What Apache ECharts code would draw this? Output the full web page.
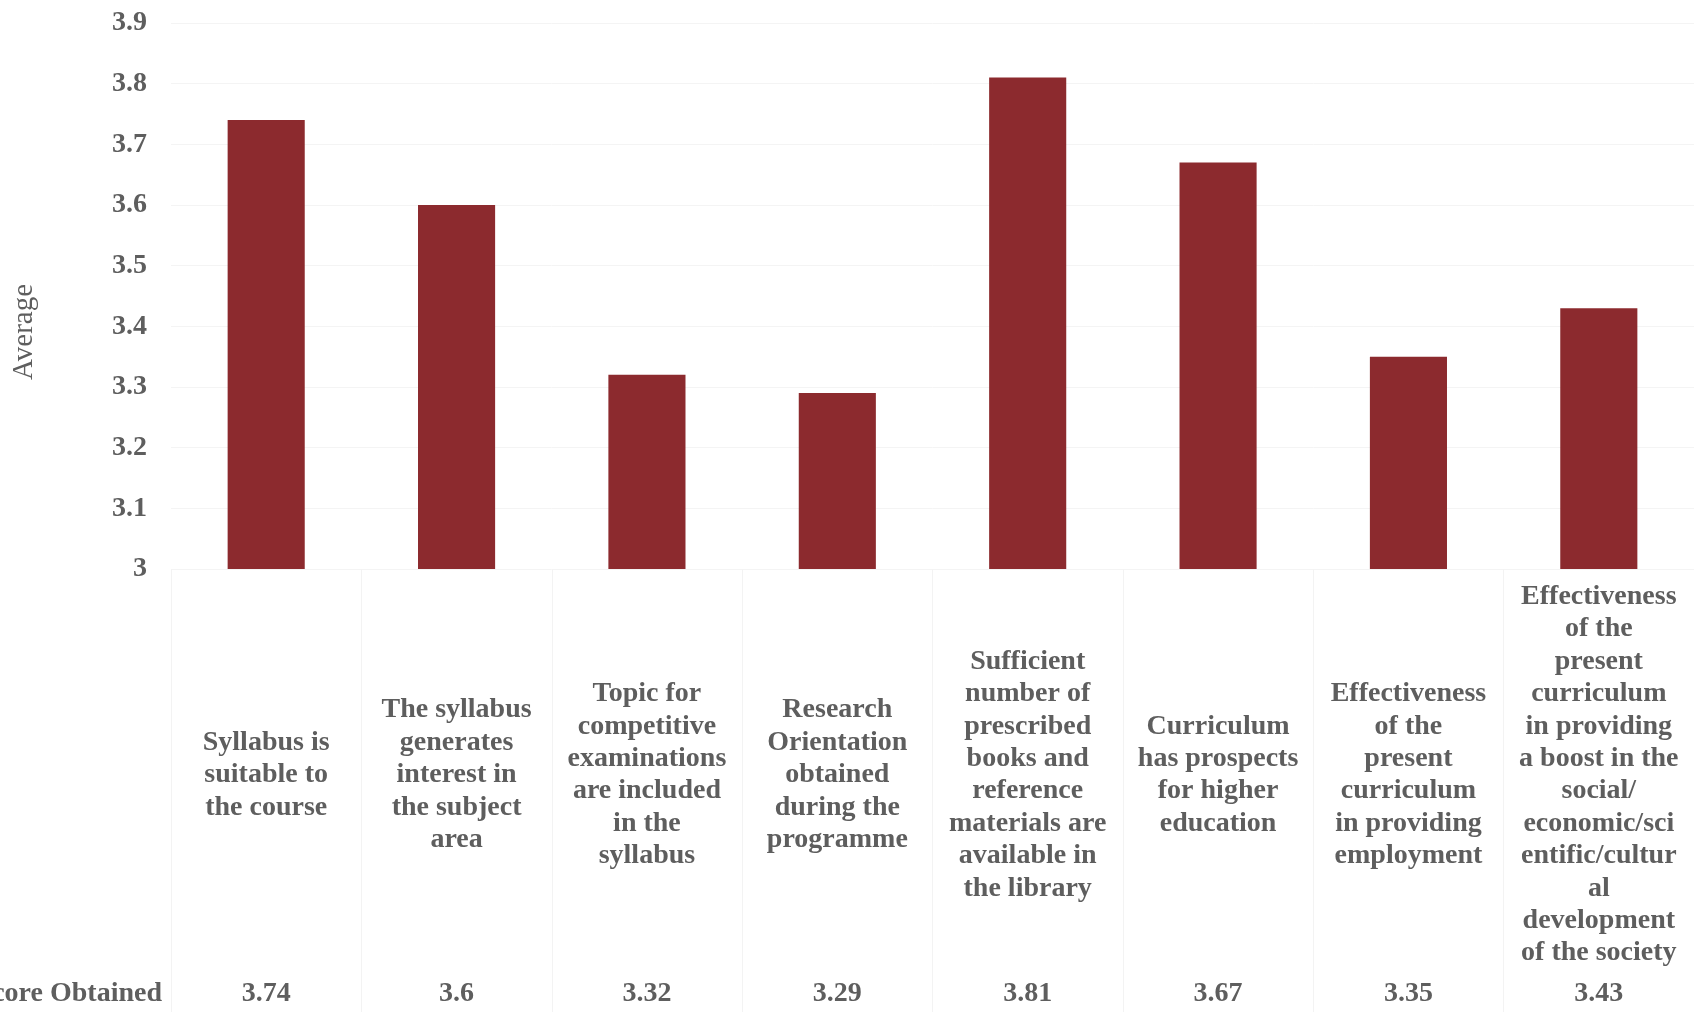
<!DOCTYPE html>
<html>
<head>
<meta charset="utf-8">
<script src="https://cdn.jsdelivr.net/npm/echarts@6/dist/echarts.min.js"></script>
<style>
html,body{margin:0;padding:0;background:#fff;}
#chart{width:1694px;height:1012px;}
</style>
</head>
<body>
<div id="chart"></div>
<script>
const categories = [
  "Syllabus is\nsuitable to\nthe course",
  "The syllabus\ngenerates\ninterest in\nthe subject\narea",
  "Topic for\ncompetitive\nexaminations\nare included\nin the\nsyllabus",
  "Research\nOrientation\nobtained\nduring the\nprogramme",
  "Sufficient\nnumber of\nprescribed\nbooks and\nreference\nmaterials are\navailable in\nthe library",
  "Curriculum\nhas prospects\nfor higher\neducation",
  "Effectiveness\nof the\npresent\ncurriculum\nin providing\nemployment",
  "Effectiveness\nof the\npresent\ncurriculum\nin providing\na boost in the\nsocial/\neconomic/sci\nentific/cultur\nal\ndevelopment\nof the society"
];
const scores = [3.74, 3.6, 3.32, 3.29, 3.81, 3.67, 3.35, 3.43];
const yTicks = { min: 3, max: 3.9, interval: 0.1 };
const rowLabel = "Score Obtained";
const yName = "Average";

const font = "'Liberation Serif', 'Times New Roman', serif";
const textColor = "#5e5e5e";

const chart = echarts.init(document.getElementById('chart'));
chart.setOption({
  backgroundColor: '#ffffff',
  animation: false,
  grid: { left: 171, top: 23, width: 1539, height: 546 },
  xAxis: [
    {
      type: 'category',
      data: categories,
      axisLine: { show: false },
      axisTick: { show: true, length: 443, lineStyle: { color: '#f3f3f3', width: 1 } },
      axisLabel: {
        interval: 0,
        margin: 206,
        verticalAlign: 'middle',
        align: 'center',
        fontFamily: font,
        fontWeight: 'bold',
        fontSize: 28,
        lineHeight: 32.4,
        color: textColor
      }
    },
    {
      type: 'category',
      data: categories,
      position: 'bottom',
      axisLine: { show: false },
      axisTick: { show: false },
      axisLabel: {
        interval: 0,
        margin: 425,
        verticalAlign: 'middle',
        fontFamily: font,
        fontWeight: 'bold',
        fontSize: 28,
        color: textColor,
        formatter: function (v, i) { return String(scores[i]); }
      }
    }
  ],
  yAxis: {
    type: 'value',
    min: yTicks.min,
    max: yTicks.max,
    interval: yTicks.interval,
    axisLine: { show: false },
    axisTick: { show: false },
    splitLine: { show: true, lineStyle: { color: '#f4f4f4', width: 1 } },
    axisLabel: {
      margin: 24,
      fontFamily: font,
      fontWeight: 'bold',
      fontSize: 28,
      color: textColor,
      formatter: function (v) { return String(Math.round(v * 10) / 10); }
    }
  },
  graphic: [
    {
      type: 'text',
      x: 24,
      y: 332,
      rotation: Math.PI / 2,
      style: {
        text: yName,
        fontFamily: font,
        fontSize: 29,
        fill: textColor,
        align: 'center',
        verticalAlign: 'middle'
      }
    },
    {
      type: 'text',
      x: 162,
      y: 994,
      style: {
        text: rowLabel,
        fontFamily: font,
        fontWeight: 'bold',
        fontSize: 28,
        fill: textColor,
        align: 'right',
        verticalAlign: 'middle'
      }
    }
  ],
  series: [
    {
      type: 'bar',
      data: scores,
      barWidth: '40.5%',
      itemStyle: { color: '#8c2a2e' }
    }
  ]
});
</script>
</body>
</html>
